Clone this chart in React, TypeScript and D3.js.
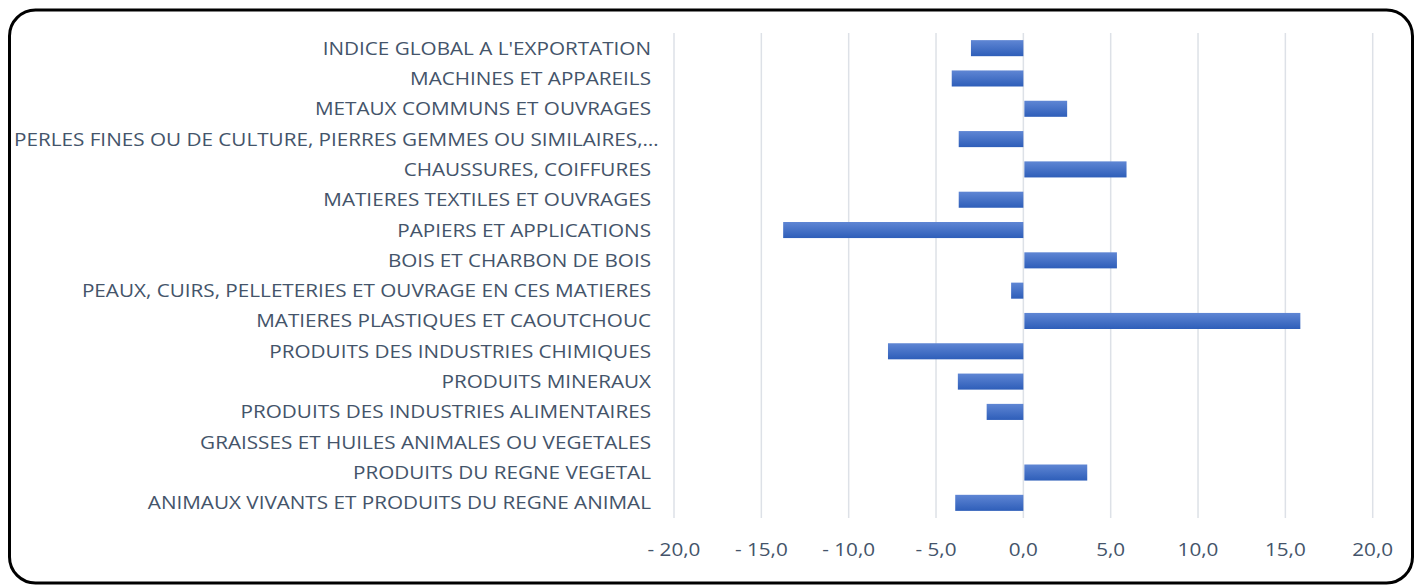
import React, { useEffect, useRef } from "react";
import * as d3 from "d3";

const categories = [
  "INDICE GLOBAL A L'EXPORTATION",
  "MACHINES ET APPAREILS",
  "METAUX COMMUNS ET OUVRAGES",
  "PERLES FINES OU DE CULTURE, PIERRES GEMMES OU SIMILAIRES,…",
  "CHAUSSURES, COIFFURES",
  "MATIERES TEXTILES ET OUVRAGES",
  "PAPIERS ET APPLICATIONS",
  "BOIS ET CHARBON DE BOIS",
  "PEAUX, CUIRS, PELLETERIES ET OUVRAGE EN CES MATIERES",
  "MATIERES PLASTIQUES ET CAOUTCHOUC",
  "PRODUITS DES INDUSTRIES CHIMIQUES",
  "PRODUITS MINERAUX",
  "PRODUITS DES INDUSTRIES ALIMENTAIRES",
  "GRAISSES ET HUILES ANIMALES OU VEGETALES",
  "PRODUITS DU REGNE VEGETAL",
  "ANIMAUX VIVANTS ET PRODUITS DU REGNE ANIMAL",
];

const values = [
  -3.0, -4.1, 2.45, -3.7, 5.85, -3.7, -13.75, 5.3, -0.7, 15.8, -7.75, -3.75,
  -2.1, 0, 3.6, -3.9,
];

const ticks = [-20, -15, -10, -5, 0, 5, 10, 15, 20];

const W = 1423;
const H = 586;
const FONT = "'Open Sans', Lato, sans-serif";
const STRETCH = 1.15; // the original font is wider than what we have

const App = () => {
  const ref = useRef<SVGSVGElement>(null);

  useEffect(() => {
    const svg = d3.select(ref.current);
    svg.selectAll("*").remove();

    const margin = { top: 33, right: 50, bottom: 68, left: 674 };
    const x = d3.scaleLinear().domain([-20, 20]).range([margin.left, 1372.7]);
    const y = d3
      .scaleBand()
      .domain(categories)
      .range([margin.top, H - margin.bottom])
      .paddingInner(0.47)
      .paddingOuter(0.235);

    const defs = svg.append("defs");
    const grad = defs
      .append("linearGradient")
      .attr("id", "barGrad")
      .attr("x1", "0")
      .attr("x2", "0")
      .attr("y1", "0")
      .attr("y2", "1");
    grad.append("stop").attr("offset", "0%").attr("stop-color", "#5f86d4");
    grad.append("stop").attr("offset", "100%").attr("stop-color", "#2e5eb9");

    svg
      .append("rect")
      .attr("x", 9.5)
      .attr("y", 10)
      .attr("width", 1403)
      .attr("height", 573)
      .attr("rx", 26)
      .attr("fill", "white")
      .attr("stroke", "black")
      .attr("stroke-width", 3);

    // gridlines
    svg
      .append("g")
      .selectAll("line")
      .data(ticks)
      .join("line")
      .attr("x1", (d) => x(d))
      .attr("x2", (d) => x(d))
      .attr("y1", margin.top)
      .attr("y2", H - margin.bottom)
      .attr("stroke", "#dde1e7")
      .attr("stroke-width", 1.5);

    // bars
    svg
      .append("g")
      .selectAll("rect")
      .data(values)
      .join("rect")
      .attr("x", (d) => x(Math.min(0, d)) + (d > 0 ? 1 : 0))
      .attr("y", (_, i) => y(categories[i])!)
      .attr("width", (d) => Math.abs(x(d) - x(0)))
      .attr("height", y.bandwidth())
      .attr("fill", "url(#barGrad)");

    // category labels
    const labels = svg
      .append("g")
      .attr("font-family", FONT)
      .attr("font-size", 18)
      .attr("fill", "#44546a")
      .selectAll("text")
      .data(categories)
      .join("text")
      .attr(
        "transform",
        (d) => `translate(651,${y(d)! + y.bandwidth() / 2}) scale(${STRETCH},1)`
      )
      .attr("dy", "0.36em")
      .attr("text-anchor", "end")
      .text((d) => d);

    // a label too long for the left area starts at the chart edge
    labels.each(function (d) {
      const t = this as SVGTextElement;
      const w = t.getComputedTextLength() * STRETCH;
      if (651 - w < 14) {
        d3.select(t)
          .attr("text-anchor", "start")
          .attr(
            "transform",
            `translate(14,${y(d)! + y.bandwidth() / 2}) scale(${STRETCH},1)`
          );
      }
    });

    // x tick labels
    const fmt = (v: number) => {
      const s = d3.format(".1f")(Math.abs(v)).replace(".", ",");
      return v < 0 ? "- " + s : s;
    };
    svg
      .append("g")
      .attr("font-family", FONT)
      .attr("font-size", 18)
      .attr("fill", "#44546a")
      .selectAll("text")
      .data(ticks)
      .join("text")
      .attr("transform", (d) => `translate(${x(d)},550) scale(${STRETCH},1)`)
      .attr("dy", "0.36em")
      .attr("text-anchor", "middle")
      .text((d) => fmt(d));
  }, []);

  return (
    <svg
      ref={ref}
      width={W}
      height={H}
      style={{ position: "absolute", left: 0, top: 0 }}
    />
  );
};

export default App;
